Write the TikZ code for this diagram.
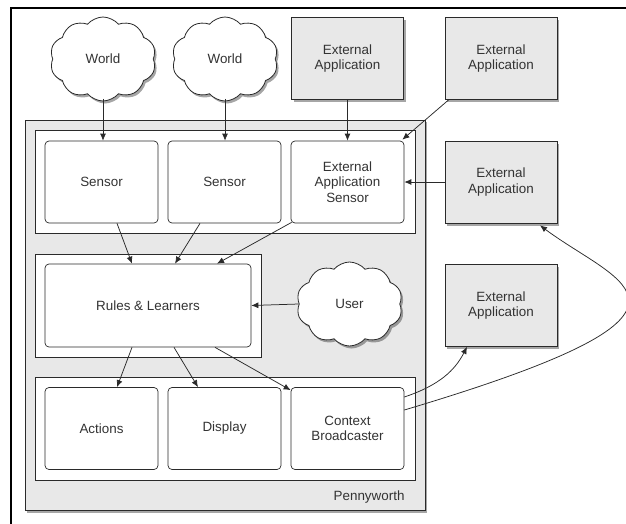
\documentclass[tikz,border=0pt]{standalone}
\usepackage{fontspec}
\setmainfont{Liberation Sans}
\usetikzlibrary{shapes.symbols,shadows,arrows.meta,calc}
\definecolor{boxgray}{HTML}{E8E8E8}
\definecolor{txt}{HTML}{333333}
\definecolor{ln}{HTML}{2A2A2A}
\begin{document}
\begin{tikzpicture}[x=1pt,y=-1pt,
  every node/.style={font=\fontsize{13.4}{15.5}\selectfont, text=txt, align=center},
  shd/.style={drop shadow={shadow xshift=2pt,shadow yshift=-2.5pt,opacity=0.35,fill=black}},
  extapp/.style={draw=ln, line width=0.8pt, fill=boxgray, shd, minimum width=112pt, minimum height=82pt, inner sep=0pt},
  inbox/.style={draw=ln, line width=0.7pt, fill=white, rounded corners=4pt, minimum width=113pt, minimum height=82pt, inner sep=0pt},
  cont/.style={draw=ln, line width=0.7pt, fill=white, inner sep=0pt},
  cloudn/.style={cloud, cloud puffs=10, cloud puff arc=100, aspect=1.3, draw=ln, line width=0.8pt, fill=white, shd, minimum width=106pt, minimum height=84pt, inner sep=0pt},
  arr/.style={draw=ln, line width=0.75pt, -{Latex[length=7pt,width=6pt]}}
]
\useasboundingbox (0,0) rectangle (626,524);
% frame
\draw[line width=2pt, black] (11,524) -- (11,8) -- (626,8);
% outer Pennyworth box
\node[draw=ln, line width=0.8pt, fill=boxgray, shd, minimum width=400pt, minimum height=390pt, inner sep=0pt] (pw) at (225,315) {};
\node[anchor=east] (pwl) at (408,497) {Pennyworth};
% containers
\node[cont, minimum width=380pt, minimum height=103pt] (c1) at (225,181.5) {};
\node[cont, minimum width=226pt, minimum height=103pt] (c2) at (148,305.5) {};
\node[cont, minimum width=380pt, minimum height=103pt] (c3) at (225,428.5) {};
% row 1
\node[inbox] (s1) at (101.5,182) {Sensor};
\node[inbox] (s2) at (224.5,182) {Sensor};
\node[inbox] (eas) at (347.5,182) {External\\Application\\Sensor};
% row 2
\node[inbox, minimum width=206pt, minimum height=83pt] (rl) at (148,305.5) {Rules \& Learners};
\node[cloudn] (user) at (349.5,304) {User};
% row 3
\node[inbox] (act) at (101.5,428.5) {Actions};
\node[inbox] (disp) at (224.5,428.5) {Display};
\node[inbox] (cb) at (347.5,428.5) {Context\\Broadcaster};
% top
\node[cloudn] (w1) at (103,59) {World};
\node[cloudn] (w2) at (225,59) {World};
\node[extapp] (e1) at (347.5,58.5) {External\\Application};
\node[extapp] (e2) at (501,58.5) {External\\Application};
\node[extapp] (e3) at (501,182) {External\\Application};
\node[extapp] (e4) at (501,305.5) {External\\Application};
% arrows
\draw[arr] (w1.south|-0,99) -- (w1.south|-s1.north);
\draw[arr] (w2.south|-0,99) -- (w2.south|-s2.north);
\draw[arr] (e1.south) -- (eas.north);
\draw[arr] ([xshift=4pt]e2.south west) -- ([xshift=-2pt,yshift=1pt]eas.north east);
\draw[arr] (e3.west) -- (eas.east);
\draw[arr] ([xshift=15.5pt]s1.south) -- ([xshift=-16pt]rl.north);
\draw[arr] ([xshift=-24.5pt]s2.south) -- ([xshift=27pt]rl.north);
\draw[arr] ([xshift=1pt,yshift=1pt]eas.south west) -- ([xshift=69pt]rl.north);
\draw[arr] (user.west) -- (rl.east);
\draw[arr] ([xshift=-16pt]rl.south) -- ([xshift=15.5pt]act.north);
\draw[arr] ([xshift=26pt]rl.south) -- ([xshift=-26.5pt]disp.north);
\draw[arr] ([xshift=67pt]rl.south) -- ([yshift=-3pt]cb.north west);
\draw[arr] ([yshift=31.5pt]cb.east) .. controls (440,385) and (455,370) .. ([xshift=-34pt]e4.south);
\draw[arr] ([yshift=18.5pt]cb.east) .. controls (740,310) and (620,285) .. ([xshift=39pt,yshift=-2pt]e3.south);
\end{tikzpicture}
\end{document}
